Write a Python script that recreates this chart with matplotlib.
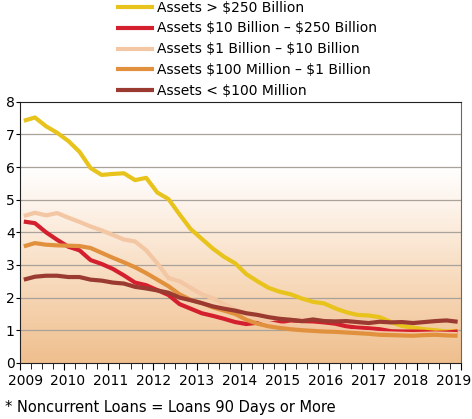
import numpy as np
import matplotlib.pyplot as plt
from matplotlib.colors import LinearSegmentedColormap
from matplotlib.transforms import ScaledTranslation

# quarterly noncurrent loan rates (%), 2009Q1 - 2018Q4
big = [7.42, 7.52, 7.25, 7.05, 6.80, 6.47, 5.97, 5.76, 5.79, 5.81,
       5.60, 5.67, 5.22, 5.02, 4.55, 4.10, 3.80, 3.50, 3.25, 3.05,
       2.72, 2.50, 2.30, 2.18, 2.10, 1.97, 1.87, 1.82, 1.67, 1.55,
       1.47, 1.45, 1.40, 1.25, 1.13, 1.08, 1.03, 1.00, 0.96, 0.98]
large = [4.33, 4.28, 4.00, 3.77, 3.56, 3.45, 3.15, 3.03, 2.88, 2.68,
         2.46, 2.38, 2.23, 2.08, 1.80, 1.66, 1.52, 1.44, 1.35, 1.25,
         1.19, 1.23, 1.20, 1.25, 1.30, 1.28, 1.27, 1.24, 1.20, 1.12,
         1.08, 1.06, 1.03, 0.97, 0.96, 0.96, 0.95, 0.92, 0.93, 0.96]
mid = [4.50, 4.60, 4.52, 4.59, 4.45, 4.32, 4.18, 4.06, 3.92, 3.78,
       3.72, 3.45, 3.05, 2.60, 2.50, 2.30, 2.10, 1.98, 1.80, 1.64,
       1.50, 1.35, 1.22, 1.15, 1.10, 1.06, 1.03, 1.01, 1.00, 0.98,
       0.96, 0.94, 0.91, 0.90, 0.89, 0.88, 0.89, 0.90, 0.89, 0.88]
small = [3.57, 3.67, 3.62, 3.60, 3.59, 3.58, 3.52, 3.37, 3.22, 3.08,
         2.93, 2.75, 2.55, 2.35, 2.10, 1.93, 1.83, 1.70, 1.60, 1.50,
         1.32, 1.20, 1.12, 1.07, 1.03, 1.00, 0.98, 0.96, 0.95, 0.93,
         0.91, 0.89, 0.86, 0.85, 0.84, 0.83, 0.85, 0.86, 0.84, 0.83]
tiny = [2.55, 2.64, 2.67, 2.67, 2.63, 2.63, 2.55, 2.52, 2.46, 2.43,
        2.33, 2.28, 2.22, 2.15, 2.00, 1.92, 1.83, 1.73, 1.66, 1.60,
        1.52, 1.47, 1.40, 1.35, 1.32, 1.28, 1.33, 1.28, 1.27, 1.28,
        1.25, 1.22, 1.26, 1.24, 1.25, 1.22, 1.25, 1.28, 1.30, 1.26]

labels = ['Assets > $250 Billion',
          'Assets $10 Billion \u2013 $250 Billion',
          'Assets $1 Billion \u2013 $10 Billion',
          'Assets $100 Million \u2013 $1 Billion',
          'Assets < $100 Million']
colors = ['#E8C31C', '#D4202E', '#F3C6A4', '#E1913D', '#9A3A31']
series = [big, large, mid, small, tiny]

years = np.linspace(2009.08, 2018.92, len(big))

plt.rcParams['font.family'] = 'DejaVu Sans'
plt.rcParams['text.parse_math'] = False

fig = plt.figure(figsize=(4.72, 4.19), dpi=100)
ax = fig.add_axes([0.043, 0.134, 0.934, 0.623])

# background gradient, white at top to tan at bottom
cmap = LinearSegmentedColormap.from_list(
    'bg', [(0.0, '#EFBF8E'), (0.3, '#F7D9BA'), (0.6, '#FDF3EA'), (0.75, '#FFFFFF'), (1.0, '#FFFFFF')],
    N=1024)
grad = np.linspace(0, 1, 512).reshape(-1, 1)
ax.imshow(grad, cmap=cmap, origin='lower', aspect='auto', interpolation='bilinear',
          extent=[2009, 2019, 0, 8], zorder=0)

for v in range(1, 8):
    ax.axhline(v, color='#A8A29A', lw=0.9, zorder=1)

lines = []
for s, c, lab in zip(series, colors, labels):
    ln, = ax.plot(years, s, color=c, lw=3, label=lab, zorder=3,
                  solid_joinstyle='round', solid_capstyle='butt')
    lines.append(ln)

ax.set_xlim(2009, 2019)
ax.set_ylim(0, 8)
ax.set_xticks(range(2009, 2020))
ax.set_xticks(np.arange(2009, 2019.01, 0.25), minor=True)
ax.set_yticks(range(0, 9))
ax.tick_params(axis='x', which='major', length=5, labelsize=10, pad=3, direction='out')
ax.tick_params(axis='x', which='minor', length=4, direction='out')
ax.tick_params(axis='y', length=3, labelsize=10, pad=1, direction='out')
for side in ['left', 'top', 'bottom']:
    ax.spines[side].set_color('#222222')
ax.spines['right'].set_color('#6E6660')

# year labels sit slightly inward of their ticks, as in the original
for i, lab in enumerate(ax.get_xticklabels()):
    lab.set_transform(lab.get_transform() +
                      ScaledTranslation((4.8 - 1.2 * i) / 100, 0, fig.dpi_scale_trans))

fig.legend(handles=lines, loc='upper left', bbox_to_anchor=(0.235, 1.012),
           frameon=False, fontsize=10, handlelength=2.7, handletextpad=0.25,
           labelspacing=0.5, borderaxespad=0)

fig.text(0.01, 0.016, '* Noncurrent Loans = Loans 90 Days or More', fontsize=10.5)

fig.savefig('out.png', dpi=100)
